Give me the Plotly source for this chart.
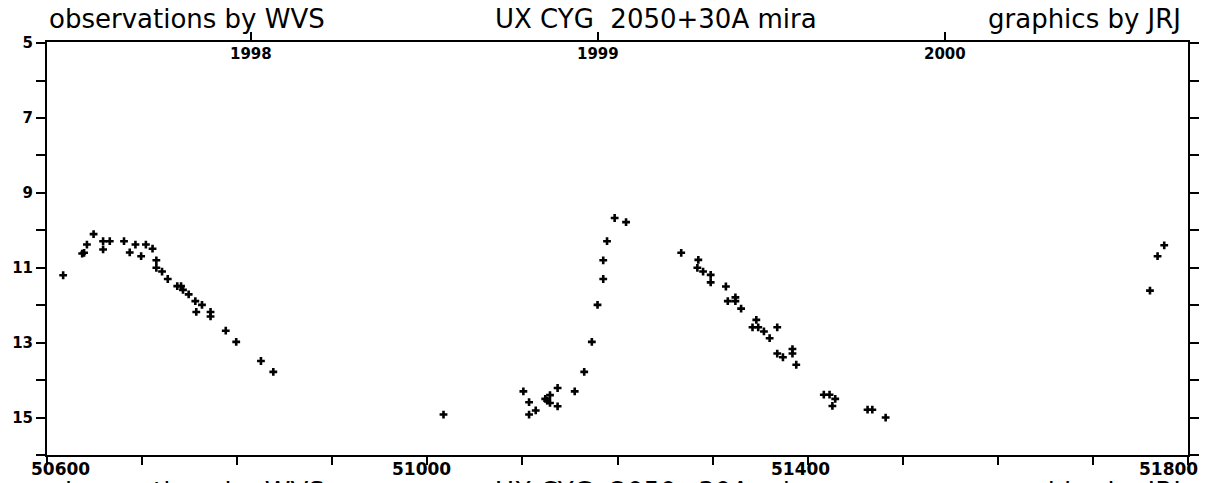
import plotly.graph_objects as go

# JD - 2400000 and visual magnitude
jd = [50617, 50637, 50639, 50642, 50649, 50659, 50659, 50666, 50681, 50687,
      50693, 50699, 50704, 50711, 50715, 50715, 50721, 50727, 50737, 50741,
      50743, 50749, 50756, 50757, 50763, 50772, 50772, 50788, 50799, 50825,
      50838,
      51017, 51101, 51107, 51107, 51114, 51124, 51126, 51129, 51129, 51137,
      51137, 51155, 51165, 51173, 51179, 51185, 51185, 51189, 51197, 51209,
      51267, 51285, 51284, 51290, 51298, 51298, 51314, 51316, 51324, 51324,
      51330, 51346, 51342, 51348, 51354, 51360, 51368, 51368, 51374, 51384,
      51384, 51388, 51417, 51423, 51429, 51426, 51463, 51468, 51482,
      51760, 51768, 51775]
mag = [11.2, 10.62, 10.6, 10.38, 10.1, 10.51, 10.29, 10.29, 10.29, 10.59,
       10.38, 10.69, 10.38, 10.49, 10.8, 11.0, 11.1, 11.3, 11.49, 11.49,
       11.59, 11.71, 11.89, 12.18, 11.99, 12.18, 12.3, 12.68, 12.98, 13.49,
       13.78,
       14.92, 14.3, 14.59, 14.92, 14.81, 14.5, 14.55, 14.4, 14.61, 14.21,
       14.7, 14.3, 13.78, 12.98, 11.99, 11.3, 10.8, 10.29, 9.67, 9.78,
       10.6, 10.79, 11.0, 11.1, 11.19, 11.39, 11.5, 11.89, 11.79, 11.89,
       12.09, 12.39, 12.59, 12.59, 12.7, 12.88, 12.59, 13.29, 13.39, 13.17,
       13.29, 13.59, 14.39, 14.39, 14.5, 14.69, 14.79, 14.79, 15.0,
       11.61, 10.69, 10.4]

year_jd = [50814.5, 51179.5, 51544.5]
year_txt = ["1998", "1999", "2000"]
jd_labels = [50600, 51000, 51400, 51800]
mag_ticks = list(range(5, 17))

TF = "DejaVu Sans"
HF = "DejaVu Sans"
W, H = 1214, 483
L, R, T, B = 45, 26, 42, 28

fig = go.Figure()
fig.add_trace(go.Scatter(x=jd, y=mag, mode="markers",
                         marker=dict(symbol="cross", size=6.5, color="black"),
                         showlegend=False))
# invisible trace to give the top (calendar) axis a home
fig.add_trace(go.Scatter(x=[50600, 51800], y=[16, 16], mode="markers",
                         marker=dict(opacity=0), xaxis="x2",
                         showlegend=False, hoverinfo="skip"))

fig.update_layout(
    width=W, height=H,
    margin=dict(l=L, r=R, t=T, b=B),
    paper_bgcolor="white", plot_bgcolor="white",
    xaxis=dict(range=[50600, 51800], showgrid=False, zeroline=False,
               showline=True, linecolor="black", linewidth=2,
               ticks="outside", tickcolor="black", ticklen=8, tickwidth=2,
               tick0=50600, dtick=100, showticklabels=False),
    xaxis2=dict(range=[50600, 51800], overlaying="x", side="top",
                showgrid=False, zeroline=False, showline=True,
                linecolor="black", linewidth=2, ticks="outside",
                tickcolor="black", ticklen=8, tickwidth=1.5,
                tickvals=year_jd, showticklabels=False),
    yaxis=dict(range=[16, 4.97], showgrid=False, zeroline=False,
               showline=True, linecolor="black", linewidth=2,
               mirror="allticks", ticks="outside", tickcolor="black",
               ticklen=9, tickwidth=2, tickvals=mag_ticks,
               ticklabeloverflow="allow",
               ticktext=[str(m) if m % 2 == 1 and m < 16 else "" for m in mag_ticks],
               tickfont=dict(family=TF, size=15, color="black", weight="bold")),
)

# year labels hang just under the top frame line
for v, t in zip(year_jd, year_txt):
    fig.add_annotation(x=v, y=1, xref="x2", yref="paper", text=t,
                       showarrow=False, xanchor="center", yanchor="top",
                       yshift=-1,
                       font=dict(family=TF, size=15, color="black", weight="bold"))

for v in jd_labels:
    shift = {50600: 13, 51000: -6, 51400: -7, 51800: -20}[v]
    fig.add_annotation(x=v, y=0, xref="x", yref="paper", text=str(v),
                       showarrow=False, xanchor="center", yanchor="top",
                       xshift=shift, yshift=-2,
                       font=dict(family=TF, size=17, color="black", weight="bold"))

# header line, repeated (cut off) at the bottom edge of the scan
heads = [("observations by WVS", 45, "left"),
         ("UX CYG  2050+30A mira", 655, "center"),
         ("graphics by JRJ", 1183, "right")]
for txt, px, anc in heads:
    for py in (19, 492):
        fig.add_annotation(x=(px - L) / (W - L - R), y=((H - py) - B) / (H - T - B),
                           xref="paper", yref="paper",
                           text=txt, showarrow=False, xanchor=anc, yanchor="middle",
                           font=dict(family=HF, size=26, color="black"))

fig.write_html("out.html", config={"displayModeBar": False},
               post_script="document.body.style.margin='0';document.body.style.overflow='hidden';")
